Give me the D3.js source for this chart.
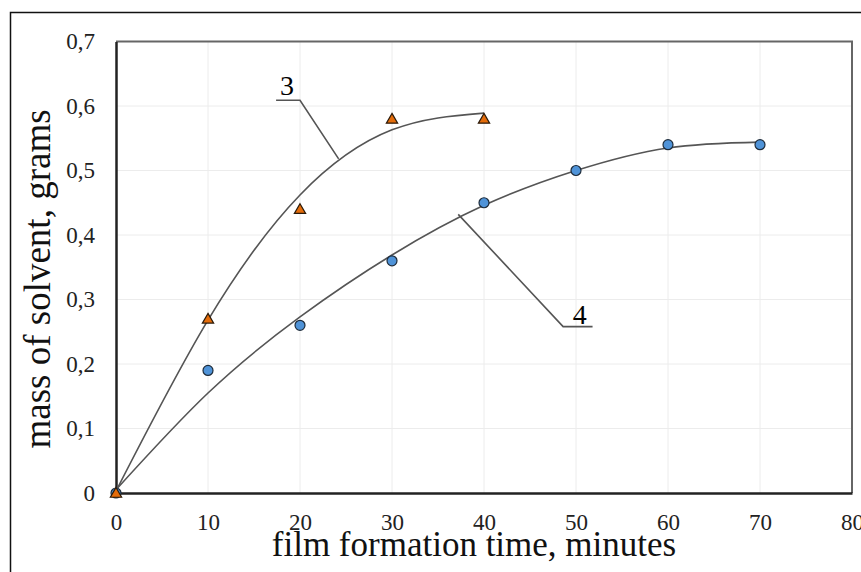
<!DOCTYPE html>
<html>
<head>
<meta charset="utf-8">
<script src="https://cdn.jsdelivr.net/npm/d3@7"></script>
<style>
  body { margin: 0; background: #fff; }
  svg text { font-family: "Times New Roman", "Liberation Serif", Tinos, "DejaVu Serif", serif !important; }
</style>
</head>
<body>
<svg id="chart"></svg>
<script>
// measured points
var times3 = [0, 10, 20, 30, 40];
var mass3 = [0, 0.27, 0.44, 0.58, 0.58];
var times4 = [0, 10, 20, 30, 40, 50, 60, 70];
var mass4 = [0, 0.19, 0.26, 0.36, 0.45, 0.50, 0.54, 0.54];

// trend lines
var trend3 = [0.003, 0.268, 0.462, 0.563, 0.589];
var trend4 = [0.005, 0.155, 0.273, 0.369, 0.446, 0.500, 0.535, 0.544];

var xTicks = [0, 10, 20, 30, 40, 50, 60, 70, 80];
var yTicks = [0, 0.1, 0.2, 0.3, 0.4, 0.5, 0.6, 0.7];

// callouts: [x, y] in data units, last point touches the curve
var callout3 = [[17.4, 0.609], [20.0, 0.609], [24.2, 0.518]];
var callout4 = [[51.8, 0.258], [48.6, 0.258], [37.2, 0.432]];

var width = 861,
    height = 572;

var svg = d3.select("#chart")
    .attr("width", width)
    .attr("height", height);

// outer frame
svg.append("rect")
  .attr("x", 10.5).attr("y", 12.5)
  .attr("width", 880).attr("height", 600)
  .attr("fill", "none")
  .attr("stroke", "#111")
  .attr("stroke-width", 1.5);

var x = d3.scaleLinear().domain([0, 80]).range([116, 852]);
var y = d3.scaleLinear().domain([0, 0.7]).range([493, 41.5]);

// grid
svg.append("g").selectAll("line")
    .data(xTicks.slice(1, -1))
  .enter().append("line")
    .attr("x1", function(d) { return x(d); })
    .attr("x2", function(d) { return x(d); })
    .attr("y1", y(0.7)).attr("y2", y(0))
    .attr("stroke", "#ececec");

svg.append("g").selectAll("line")
    .data(yTicks.slice(1, -1))
  .enter().append("line")
    .attr("x1", x(0)).attr("x2", x(80))
    .attr("y1", function(d) { return y(d); })
    .attr("y2", function(d) { return y(d); })
    .attr("stroke", "#ececec");

// plot frame: top/right lighter than the axes
svg.append("path")
  .attr("d", "M" + x(0) + "," + y(0.7) + "H" + x(80) + "V" + y(0))
  .attr("fill", "none")
  .attr("stroke", "#666")
  .attr("stroke-width", 2);

var fmt = function(d) { return d === 0 ? "0" : d3.format(".1f")(d).replace(".", ","); };

var xAxis = d3.axisBottom(x).tickValues(xTicks).tickSize(0).tickPadding(20);
var yAxis = d3.axisLeft(y).tickValues(yTicks).tickFormat(fmt).tickSize(0).tickPadding(21);

var gx = svg.append("g")
  .attr("transform", "translate(0," + y(0) + ")")
  .call(xAxis);
var gy = svg.append("g")
  .attr("transform", "translate(" + x(0) + ",0)")
  .call(yAxis);

[gx, gy].forEach(function(g) {
  g.attr("font-family", null).attr("font-size", null);
  g.select(".domain").attr("stroke", "#222").attr("stroke-width", 2.5);
  g.selectAll("text")
    .attr("font-size", 23)
    .attr("fill", "#222");
});
gx.selectAll("text").attr("dy", "0.75em");

// trend curves
var line = d3.line()
  .x(function(d) { return x(d[0]); })
  .y(function(d) { return y(d[1]); })
  .curve(d3.curveNatural);

svg.append("path")
  .datum(times3.map(function(t, i) { return [t, trend3[i]]; }))
  .attr("d", line)
  .attr("fill", "none")
  .attr("stroke", "#555")
  .attr("stroke-width", 1.6);

svg.append("path")
  .datum(times4.map(function(t, i) { return [t, trend4[i]]; }))
  .attr("d", line)
  .attr("fill", "none")
  .attr("stroke", "#555")
  .attr("stroke-width", 1.6);

// callouts
var straight = d3.line()
  .x(function(d) { return x(d[0]); })
  .y(function(d) { return y(d[1]); });

[callout3, callout4].forEach(function(c) {
  svg.append("path")
    .attr("d", straight(c))
    .attr("fill", "none")
    .attr("stroke", "#555")
    .attr("stroke-width", 1.6);
});

svg.append("text")
  .attr("x", x(18.6)).attr("y", y(0.617))
  .attr("text-anchor", "middle")
  .attr("font-size", 28)
  .text("3");

svg.append("text")
  .attr("x", x(50.4)).attr("y", y(0.259) - 2)
  .attr("text-anchor", "middle")
  .attr("font-size", 28)
  .text("4");

// markers
svg.append("g").selectAll("circle")
    .data(times4.map(function(t, i) { return [t, mass4[i]]; }))
  .enter().append("circle")
    .attr("cx", function(d) { return x(d[0]); })
    .attr("cy", function(d) { return y(d[1]); })
    .attr("r", 5)
    .attr("fill", "#4f93d8")
    .attr("stroke", "#1d2b3a")
    .attr("stroke-width", 1.2);

svg.append("g").selectAll("path")
    .data(times3.map(function(t, i) { return [t, mass3[i]]; }))
  .enter().append("path")
    .attr("transform", function(d) { return "translate(" + x(d[0]) + "," + (y(d[1]) + 1) + ")"; })
    .attr("d", d3.symbol().type(d3.symbolTriangle).size(55))
    .attr("fill", "#e46c0a")
    .attr("stroke", "#2a1a0a")
    .attr("stroke-width", 1.2);

// axis titles
svg.append("text")
  .attr("x", 474).attr("y", 556)
  .attr("text-anchor", "middle")
  .attr("font-size", 35)
  .attr("fill", "#111")
  .text("film formation time, minutes");

svg.append("text")
  .attr("transform", "translate(50,279) rotate(-90)")
  .attr("text-anchor", "middle")
  .attr("font-size", 37)
  .attr("fill", "#111")
  .text("mass of solvent, grams");
</script>
</body>
</html>
